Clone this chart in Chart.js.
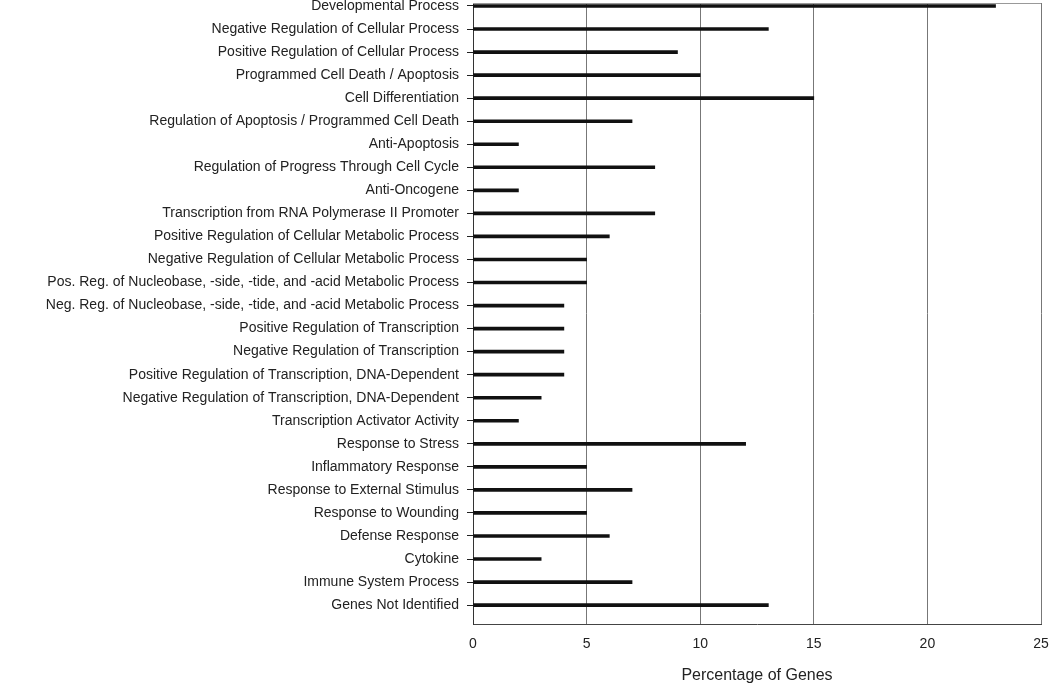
<!DOCTYPE html>
<html>
<head>
<meta charset="utf-8">
<script src="https://cdn.jsdelivr.net/npm/chart.js@4/dist/chart.umd.min.js"></script>
<style>
  html, body { margin: 0; padding: 0; background: #fff; }
  #wrap { width: 1050px; height: 686px; position: relative; }
</style>
</head>
<body>
<div id="wrap"><canvas id="chart"></canvas></div>
<script>
var categories = [
    "Developmental Process",
    "Negative Regulation of Cellular Process",
    "Positive Regulation of Cellular Process",
    "Programmed Cell Death / Apoptosis",
    "Cell Differentiation",
    "Regulation of Apoptosis / Programmed Cell Death",
    "Anti-Apoptosis",
    "Regulation of Progress Through Cell Cycle",
    "Anti-Oncogene",
    "Transcription from RNA Polymerase II Promoter",
    "Positive Regulation of Cellular Metabolic Process",
    "Negative Regulation of Cellular Metabolic Process",
    "Pos. Reg. of Nucleobase, -side, -tide, and -acid Metabolic Process",
    "Neg. Reg. of Nucleobase, -side, -tide, and -acid Metabolic Process",
    "Positive Regulation of Transcription",
    "Negative Regulation of Transcription",
    "Positive Regulation of Transcription, DNA-Dependent",
    "Negative Regulation of Transcription, DNA-Dependent",
    "Transcription Activator Activity",
    "Response to Stress",
    "Inflammatory Response",
    "Response to External Stimulus",
    "Response to Wounding",
    "Defense Response",
    "Cytokine",
    "Immune System Process",
    "Genes Not Identified"
];
var percentages = [23, 13, 9, 10, 15, 7, 2, 8, 2, 8, 6, 5, 5, 4, 4, 4, 4, 3, 2, 12, 5, 7, 5, 6, 3, 7, 13];
var xTicks = [0, 5, 10, 15, 20, 25];
var axisTitle = "Percentage of Genes";

// top edge of the plot box
var topBorder = {
    id: 'topBorder',
    afterDraw: function (chart) {
        var a = chart.chartArea;
        var ctx = chart.ctx;
        ctx.save();
        ctx.strokeStyle = '#999';
        ctx.lineWidth = 1;
        ctx.beginPath();
        ctx.moveTo(a.left, a.top + 0.5);
        ctx.lineTo(a.right, a.top + 0.5);
        ctx.stroke();
        ctx.restore();
    }
};

var points = percentages.map(function (v, i) {
    return { x: v, y: i };
});

var ctx = document.getElementById("chart");
var myChart = new Chart(ctx, {
    type: 'bar',
    data: {
        datasets: [{
            data: points,
            backgroundColor: '#111',
            borderWidth: 0,
            barThickness: 3
        }]
    },
    plugins: [topBorder],
    options: {
        indexAxis: 'y',
        responsive: true,
        maintainAspectRatio: false,
        animation: false,
        layout: { padding: { top: 3, right: 9, left: 0, bottom: 0 } },
        plugins: {
            legend: { display: false },
            tooltip: { enabled: false }
        },
        scales: {
            x: {
                type: 'linear',
                min: 0,
                max: 25,
                afterBuildTicks: function (scale) {
                    scale.ticks = xTicks.map(function (v) { return { value: v }; });
                },
                afterFit: function (scale) {
                    scale.height = 62;
                    scale.paddingLeft = 0;
                    scale.paddingRight = 0;
                },
                grid: { color: '#777', drawTicks: false },
                border: { color: '#444' },
                ticks: {
                    color: '#222',
                    padding: 12,
                    font: { family: 'Liberation Sans, Arial, sans-serif', size: 14 }
                },
                title: {
                    display: true,
                    text: axisTitle,
                    color: '#222',
                    padding: { top: 4, bottom: 1 },
                    font: { family: 'Liberation Sans, Arial, sans-serif', size: 16 }
                }
            },
            y: {
                type: 'linear',
                reverse: true,
                offset: false,
                min: -0.13,
                max: 26.82,
                afterBuildTicks: function (scale) {
                    scale.ticks = categories.map(function (c, i) { return { value: i }; });
                },
                afterFit: function (scale) {
                    scale.width = 473;
                    scale.paddingTop = 0;
                    scale.paddingBottom = 0;
                },
                grid: { drawOnChartArea: false, offset: false, tickLength: 6, color: '#222' },
                border: { color: '#333' },
                ticks: {
                    autoSkip: false,
                    color: '#222',
                    padding: 8,
                    font: { family: 'Liberation Sans, Arial, sans-serif', size: 14 },
                    callback: function (value) {
                        return categories[value];
                    }
                }
            }
        }
    }
});
</script>
</body>
</html>
